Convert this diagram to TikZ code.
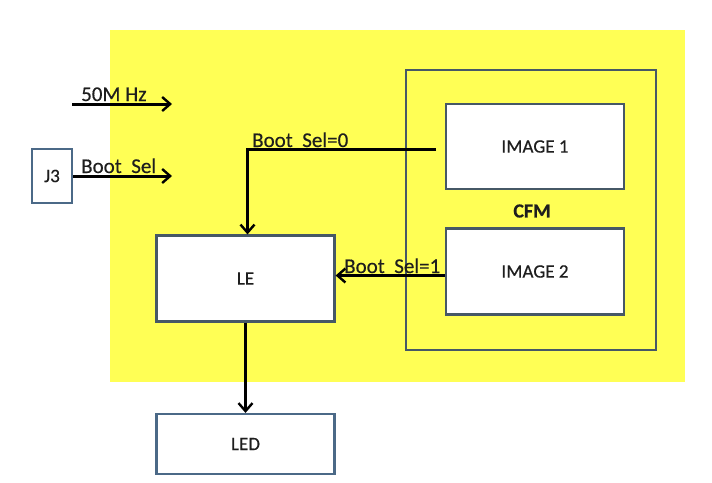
\documentclass[tikz,border=0pt]{standalone}
\usepackage{fontspec}
\setmainfont{Carlito}[FakeBold=0.4]
\usetikzlibrary{arrows.meta,calc}
\definecolor{boardyellow}{RGB}{255,255,85}
\definecolor{boxline}{RGB}{70,88,102}
\definecolor{blueline}{RGB}{75,105,135}
\definecolor{txt}{RGB}{30,30,30}
\tikzset{
  blk/.style={draw=boxline, line width=2.2pt, fill=white, minimum width=178pt, inner sep=0pt, text=txt, font=\fontsize{19}{22}\selectfont},
  conn/.style={line width=3pt, draw=black, -{Straight Barb[length=8pt,width=14pt,line width=2.4pt]}},
  lbl/.style={anchor=base west, inner sep=0pt, text=txt, font=\fontsize{21}{24}\selectfont}
}
\begin{document}
\begin{tikzpicture}[x=1pt,y=-1pt]
\useasboundingbox (0,0) rectangle (712,482);
\node[fill=boardyellow, minimum width=575pt, minimum height=352pt, inner sep=0pt] (board) at (397.5,206) {};
\node[draw=boxline, line width=2.2pt, minimum width=250pt, minimum height=280pt, inner sep=0pt] (cfm) at (531,210) {};
\node[font=\fontsize{20}{22}\selectfont\bfseries, text=txt, inner sep=0pt] (cfmlbl) at (532,211) {CFM};
\node[blk, minimum height=85pt] (img1) at (535,146.5) {IMAGE 1};
\node[blk, minimum height=86pt] (img2) at (535,271.5) {IMAGE 2};
\node[blk, minimum height=86pt] (le) at (245.5,278.5) {LE};
\node[blk, draw=blueline, minimum height=60pt] (led) at (245.5,444) {LED};
\node[draw=blueline, line width=2pt, fill=white, minimum width=40pt, minimum height=54pt, inner sep=0pt, text=txt, font=\fontsize{19}{22}\selectfont] (j3) at (52,176) {J3};
\coordinate (clk) at (72,104);
\coordinate (clkend) at (172,104);
\coordinate (bsend) at (172,176);
\coordinate (s0) at (436,149);
\draw[conn] (clk) -- (clkend);
\draw[conn] (j3.east) -- (bsend);
\draw[conn] (s0) -| ([xshift=2pt]le.north);
\draw[conn] ([yshift=-4pt]img2.west) -- ([yshift=-4pt]img2.west -| le.east);
\draw[conn] (le.south) -- (led.north);
\node[lbl] (l50) at (81,101) {50M Hz};
\node[lbl] (lbs) at (81,173) {Boot\ \ Sel};
\node[lbl] (lbs0) at (252,147) {Boot\ \ Sel=0};
\node[lbl] (lbs1) at (344,273) {Boot\ \ Sel=1};
\end{tikzpicture}
\end{document}
